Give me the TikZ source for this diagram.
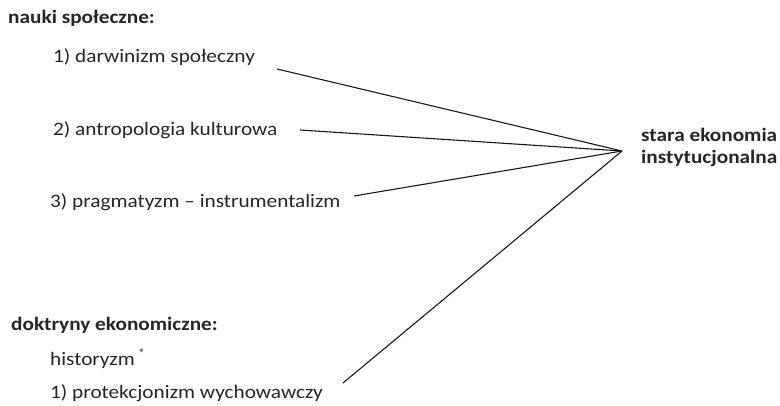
\documentclass[tikz,border=0pt]{standalone}
\usepackage{fontspec}
\setmainfont{Carlito}
% labels are set slightly wider than their natural width
\newcommand{\widetxt}[1]{\scalebox{1.12}[1]{#1}}
\begin{document}
\begin{tikzpicture}[x=1pt,y=-1pt,
  lbl/.style={anchor=west,inner sep=0pt,font=\fontsize{19}{22}\selectfont,text=black!85},
  head/.style={lbl,font=\fontsize{19}{22}\selectfont\bfseries},
  link/.style={line width=1.1pt,black!90}]
\useasboundingbox (0,0) rectangle (780,406);
% left column: labels
\node[head] (ns) at (8,18) {\widetxt{nauki społeczne:}};
\node[lbl] (n1) at (53,57) {\widetxt{1) darwinizm społeczny}};
\node[lbl] (n2) at (53,130) {\widetxt{2) antropologia kulturowa}};
\node[lbl] (n3) at (50,202) {\widetxt{3) pragmatyzm – instrumentalizm}};
\node[head] (dk) at (11,325) {\widetxt{doktryny ekonomiczne:}};
\node[lbl] (hi) at (50,359) {\widetxt{historyzm\kern3pt\raisebox{0.42em}{\fontsize{12}{12}\selectfont *}}};
\node[lbl] (d1) at (50,393) {\widetxt{1) protekcjonizm wychowawczy}};
% right: target
\node[head] (sei1) at (641,135) {\widetxt{stara ekonomia}};
\node[head] (sei2) at (641,158) {\widetxt{instytucjonalna}};
% connectors
\coordinate (hub) at (622,151);
\coordinate (e1) at (277,69);
\coordinate (e2) at (300,130);
\coordinate (e3) at (354,196);
\coordinate (e4) at (343,383);
\draw[link] (e1) -- (hub);
\draw[link] (e2) -- (hub);
\draw[link] (e3) -- (hub);
\draw[link] (e4) -- (hub);
\end{tikzpicture}
\end{document}
